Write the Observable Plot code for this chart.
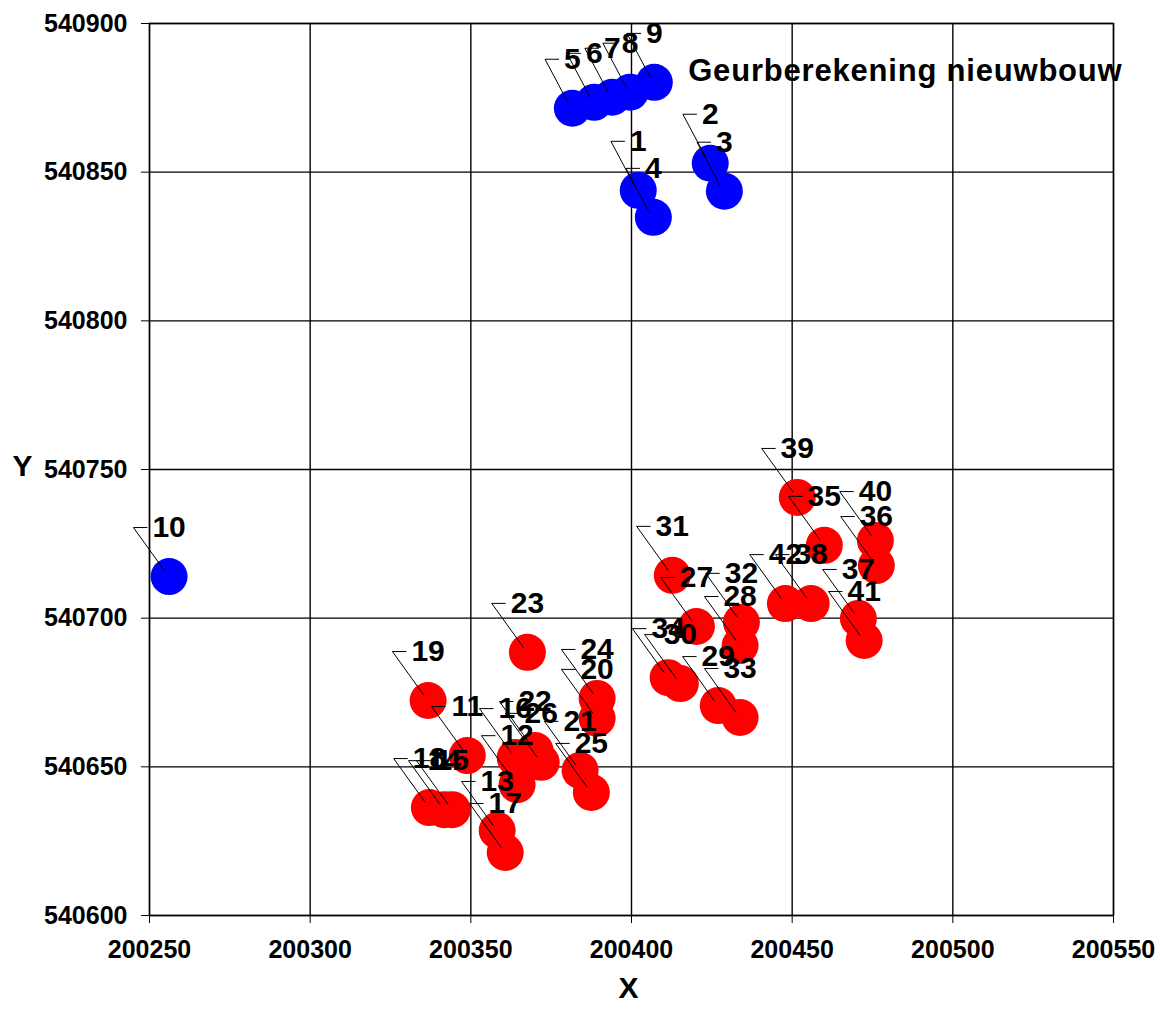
<!DOCTYPE html>
<html><head><meta charset="utf-8">
<script src="https://cdn.jsdelivr.net/npm/d3@7"></script>
<script src="https://cdn.jsdelivr.net/npm/@observablehq/plot@0.6"></script>
<style>body{margin:0;background:#fff;}</style>
</head><body><div id="chart"></div>
<script>
// Data: blue series and red series
const blueLabels = ["1","2","3","4","5","6","7","8","9","10"];
const blueX = [200402.1, 200424.5, 200428.9, 200406.8, 200381.6, 200388.4, 200394.0, 200399.6, 200407.1, 200256.1];
const blueY = [540843.9, 540853.0, 540843.6, 540834.8, 540871.5, 540873.5, 540875.2, 540876.9, 540880.2, 540714.0];

const redLabels = ["11","12","13","14","15","16","17","18","19","20","21","22","23","24","25","26","27","28","29","30","31","32","33","34","35","36","37","38","39","40","41","42"];
const redX = [200348.9, 200364.4, 200358.2, 200341.7, 200344.2, 200363.8, 200360.7, 200337.1, 200336.7, 200389.3, 200384.0, 200370.0, 200367.6, 200389.3, 200387.5, 200371.9, 200420.2, 200433.8, 200427.0, 200415.2, 200412.7, 200434.2, 200433.8, 200411.4, 200460.0, 200476.2, 200470.6, 200455.9, 200451.6, 200475.9, 200472.4, 200447.9];
const redY = [540653.8, 540644.0, 540628.6, 540635.6, 540635.6, 540653.1, 540621.2, 540636.3, 540672.3, 540666.3, 540648.8, 540655.5, 540688.5, 540673.0, 540641.4, 540651.5, 540697.2, 540690.8, 540670.6, 540678.0, 540714.4, 540698.6, 540666.6, 540680.0, 540724.5, 540717.7, 540699.9, 540704.9, 540740.6, 540726.1, 540692.5, 540704.9];

const xTicks = [200250, 200300, 200350, 200400, 200450, 200500, 200550];
const yTicks = [540600, 540650, 540700, 540750, 540800, 540850, 540900];
const titleText = "Geurberekening nieuwbouw";

const blue = blueLabels.map((l, i) => ({label: l, x: blueX[i], y: blueY[i]}));
const red = redLabels.map((l, i) => ({label: l, x: redX[i], y: redY[i]}));
const all = [...blue, ...red];

const W = 1160, H = 1011, mL = 149, mR = 47, mT = 23, mB = 96;
const kx = (W - mL - mR) / 300, ky = (H - mT - mB) / 300; // px per data unit
const FS = 30, DIGIT = 0.556 * FS;
const halfW = d => d.label.length * DIGIT / 2;
const cornerX = d => d.x - (halfW(d) + 19) / kx;
const cornerY = d => d.y + 49 / ky;

const font = "Liberation Sans, Arial, Helvetica, sans-serif";

const chart = Plot.plot({
  width: W, height: H,
  marginLeft: mL, marginRight: mR, marginTop: mT, marginBottom: mB,
  x: {domain: [200250, 200550]},
  y: {domain: [540600, 540900]},
  style: `font-family:${font};font-size:25px;font-weight:bold;color:black;background:white;`,
  marks: [
    Plot.gridX(xTicks, {stroke: "black", strokeOpacity: 1, strokeWidth: 1.4}),
    Plot.gridY(yTicks, {stroke: "black", strokeOpacity: 1, strokeWidth: 1.4}),
    Plot.frame({stroke: "black", strokeWidth: 1.4}),
    Plot.axisX(xTicks, {tickSize: 8, tickPadding: 17, label: null, tickFormat: d => String(d), fontSize: 25, fontWeight: "bold", stroke: "black"}),
    Plot.axisY(yTicks, {tickSize: 8, tickPadding: 14, label: null, tickFormat: d => String(d), fontSize: 25, fontWeight: "bold", stroke: "black"}),
    Plot.dot(blue, {x: "x", y: "y", r: 18.5, fill: "#0000ff"}),
    Plot.dot(red, {x: "x", y: "y", r: 18.5, fill: "#ff0000"}),
    Plot.link(all, {x1: cornerX, y1: cornerY, x2: d => d.x - 4 / kx, y2: d => d.y + 5 / ky, stroke: "black", strokeWidth: 1}),
    Plot.link(all, {x1: cornerX, y1: cornerY, x2: d => cornerX(d) + 14 / kx, y2: cornerY, stroke: "black", strokeWidth: 1}),
    Plot.text(all, {x: "x", y: "y", text: "label", dy: -49, fontSize: FS, fontWeight: "bold", fill: "black"}),
    Plot.text([titleText], {frameAnchor: "top-right", dx: 9, dy: 35, textAnchor: "end", fontSize: 31, fontWeight: "bold", fill: "black"}),
    Plot.text(["X"], {frameAnchor: "bottom", dx: -3, dy: 82, textAnchor: "middle", fontSize: 30, fontWeight: "bold", fill: "black"}),
    Plot.text(["Y"], {frameAnchor: "left", dx: -127, dy: -3, textAnchor: "middle", fontSize: 30, fontWeight: "bold", fill: "black"})
  ]
});
chart.querySelectorAll("text").forEach(t => {
  if (t.textContent === titleText) t.setAttribute("letter-spacing", "0.8");
});
document.getElementById("chart").appendChild(chart);
</script>
</body></html>
